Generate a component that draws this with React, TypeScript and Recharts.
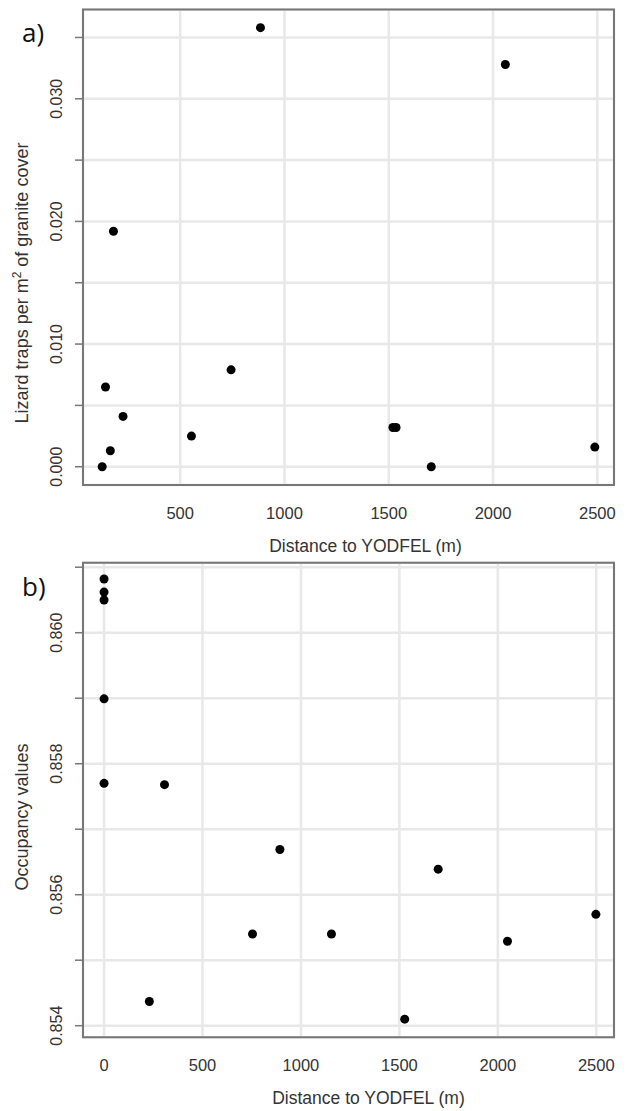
import React from 'react';
import { ScatterChart, Scatter, XAxis, YAxis, CartesianGrid, ReferenceArea } from 'recharts';

// panel a) lizard traps vs distance
const topDistance = [885, 2059, 180, 142, 744, 226, 554, 165, 126, 1520, 1535, 1704, 2488];
const topTraps = [0.0358, 0.0328, 0.0192, 0.0065, 0.0079, 0.0041, 0.0025, 0.0013, 0, 0.0032, 0.0032, 0, 0.0016];
const topXTicks = [500, 1000, 1500, 2000, 2500];
const topYTicks = [0, 0.005, 0.01, 0.015, 0.02, 0.025, 0.03, 0.035];
const topYLabels = ['0.000', '0.010', '0.020', '0.030'];

// panel b) occupancy vs distance
const bottomDistance = [0, 0, 0, 0, 0, 307, 893, 1697, 754, 1155, 2498, 2049, 230, 1527];
const bottomOccupancy = [0.86082, 0.86062, 0.8605, 0.85899, 0.8577, 0.85768, 0.85669, 0.85639, 0.8554, 0.8554, 0.8557, 0.85529, 0.85437, 0.8541];
const bottomXTicks = [0, 500, 1000, 1500, 2000, 2500];
const bottomYTicks = [0.854, 0.855, 0.856, 0.857, 0.858, 0.859, 0.86, 0.861];
const bottomYLabels = ['0.854', '0.856', '0.858', '0.860'];

const topData = topDistance.map((x, i) => ({ x, y: topTraps[i] }));
const bottomData = bottomDistance.map((x, i) => ({ x, y: bottomOccupancy[i] }));

const FONT = '"Liberation Sans", Arial, sans-serif';
const TXT = '#333';

const XTick = (props: any) => {
  const { x, y, payload } = props;
  return (
    <text x={x} y={y + 34} textAnchor="middle" fontFamily={FONT} fontSize={16.5} fill={TXT}>
      {payload.value}
    </text>
  );
};

const makeYTick = (labels: string[]) => (props: any) => {
  const { x, y, payload } = props;
  const txt = Number(payload.value).toFixed(3);
  if (!labels.includes(txt)) return <g />;
  const bx = x - 13;
  return (
    <text x={bx} y={y} transform={`rotate(-90, ${bx}, ${y})`} textAnchor="middle"
      fontFamily={FONT} fontSize={16} fill={TXT}>
      {txt}
    </text>
  );
};

const dot = (p: any) => <circle cx={p.cx} cy={p.cy} r={4.5} fill="#000" />;

const Panel = ({ data, xDomain, yDomain, xTicks, yTicks, yLabels, yTitle, yTitleY, marginTop, axisH, height, titleShift }: any) => (
  <ScatterChart width={628} height={height} margin={{ top: marginTop, right: 14, bottom: 0, left: 0 }}>
    <CartesianGrid stroke="#e8e8e8" strokeWidth={2.5} />
    <XAxis
      type="number" dataKey="x" domain={xDomain} ticks={xTicks} allowDataOverflow
      axisLine={false} tickLine={false} tickSize={0} tickMargin={0} height={axisH}
      tick={XTick}
      label={(p: any) => {
        const vb = p.viewBox;
        return (
          <text x={vb.x + vb.width / 2 + titleShift} y={vb.y + 67} textAnchor="middle"
            fontFamily={FONT} fontSize={17.5} fill={TXT}>
            Distance to YODFEL (m)
          </text>
        );
      }}
    />
    <YAxis
      type="number" dataKey="y" domain={yDomain} ticks={yTicks} allowDataOverflow
      axisLine={false} tickLine={{ stroke: '#777', strokeWidth: 1.5 }} tickSize={8} tickMargin={0} width={83}
      tick={makeYTick(yLabels)}
      label={() => (
        <text x={28} y={yTitleY} transform={`rotate(-90, 28, ${yTitleY})`} textAnchor="middle"
          fontFamily={FONT} fontSize={18} fill={TXT}>
          {yTitle}
        </text>
      )}
    />
    <ReferenceArea x1={xDomain[0]} x2={xDomain[1]} y1={yDomain[0]} y2={yDomain[1]}
      fill="none" stroke="#777" strokeWidth={2} ifOverflow="visible" />
    <Scatter data={data} fill="#000" shape={dot} isAnimationActive={false} />
  </ScatterChart>
);

export default function App() {
  return (
    <div style={{ position: 'absolute', left: 0, top: 0, width: 628, height: 1111, background: '#fff', overflow: 'hidden' }}>
      <div style={{ position: 'absolute', left: 0, top: 0 }}>
        <Panel
          data={topData} xDomain={[34, 2580]} yDomain={[-0.00149, 0.03728]}
          xTicks={topXTicks} yTicks={topYTicks} yLabels={topYLabels}
          yTitle={<>Lizard traps per m<tspan dy={-7} fontSize={12}>2</tspan><tspan dy={7}> of granite cover</tspan></>}
          yTitleY={283} marginTop={9.5} axisH={75} height={560} titleShift={17}
        />
      </div>
      <div style={{ position: 'absolute', left: 0, top: 540 }}>
        <Panel
          data={bottomData} xDomain={[-107, 2590]} yDomain={[0.853823, 0.861069]}
          xTicks={bottomXTicks} yTicks={bottomYTicks} yLabels={bottomYLabels}
          yTitle="Occupancy values"
          yTitleY={277} marginTop={22.7} axisH={73.7} height={571} titleShift={20}
        />
      </div>
      <div style={{ position: 'absolute', left: 22, top: 12, fontFamily: '"Open Sans", sans-serif', fontSize: 26, color: '#111', lineHeight: '40px' }}>a)</div>
      <div style={{ position: 'absolute', left: 22, top: 566, fontFamily: '"Open Sans", sans-serif', fontSize: 26, color: '#111', lineHeight: '40px' }}>b)</div>
    </div>
  );
}
